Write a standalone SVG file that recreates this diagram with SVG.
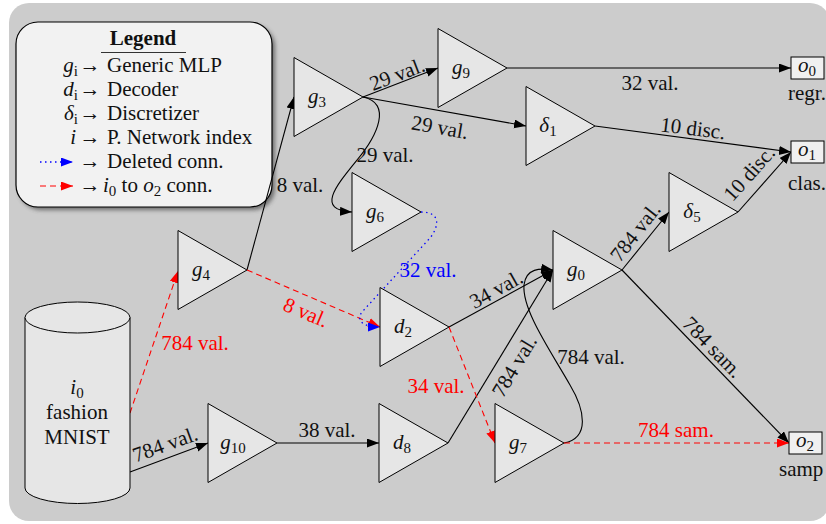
<svg xmlns="http://www.w3.org/2000/svg" width="826" height="524" viewBox="0 0 826 524">
<defs>
<marker id="ab" markerUnits="userSpaceOnUse" markerWidth="13" markerHeight="10" refX="12" refY="4.5" orient="auto" viewBox="0 0 13 10"><path d="M0,0 L12,4.5 L0,9 z" fill="#000"/></marker>
<marker id="ar" markerUnits="userSpaceOnUse" markerWidth="13" markerHeight="10" refX="12" refY="4.5" orient="auto" viewBox="0 0 13 10"><path d="M0,0 L12,4.5 L0,9 z" fill="#f00"/></marker>
<marker id="au" markerUnits="userSpaceOnUse" markerWidth="13" markerHeight="10" refX="12" refY="4.5" orient="auto" viewBox="0 0 13 10"><path d="M0,0 L12,4.5 L0,9 z" fill="#00f"/></marker>
<filter id="sh" x="-10%" y="-10%" width="130%" height="130%"><feGaussianBlur stdDeviation="2"/></filter>
</defs>
<style>
.t{font-family:'Liberation Serif','DejaVu Serif',serif;font-size:21px;fill:#111}
.m{font-style:italic}
.s{font-size:15px;font-style:normal}
.n{fill:#e6e6e6;stroke:#000;stroke-width:1}
.o{fill:#f0f0f0;stroke:#000;stroke-width:1}
.e{fill:none;stroke:#000;stroke-width:1.1}
.r{stroke:#f00;stroke-dasharray:6 4}
.b{stroke:#00f;stroke-dasharray:1.5 3.5;stroke-width:1.3}
.rt{fill:#f00}
.bt{fill:#00f}
.nl{text-anchor:middle}
.c{text-anchor:middle}
</style>
<rect x="0" y="0" width="826" height="524" fill="#fff"/>
<rect x="9" y="3" width="821" height="518" rx="20" fill="#cccccc"/>

<g id="legend">
<rect x="19" y="25" width="256" height="185" rx="22" fill="#444" opacity="0.7" filter="url(#sh)"/>
<rect x="16" y="22" width="256" height="185" rx="22" fill="#f2f2f2" stroke="#000" stroke-width="1.2"/>
<text class="t" x="143" y="45" text-anchor="middle" font-weight="bold" font-size="26">Legend</text>
<line x1="101" y1="52.5" x2="186" y2="52.5" stroke="#333" stroke-width="1.2"/>
<text class="t" x="78" y="71.5" text-anchor="end"><tspan class="m">g</tspan><tspan class="s" dy="4">i</tspan></text>
<text class="t" x="90" y="71.5" text-anchor="middle">→</text>
<text class="t" x="107" y="71.5">Generic MLP</text>
<text class="t" x="78" y="95.5" text-anchor="end"><tspan class="m">d</tspan><tspan class="s" dy="4">i</tspan></text>
<text class="t" x="90" y="95.5" text-anchor="middle">→</text>
<text class="t" x="107" y="95.5">Decoder</text>
<text class="t" x="78" y="119.5" text-anchor="end"><tspan class="m">δ</tspan><tspan class="s" dy="4">i</tspan></text>
<text class="t" x="90" y="119.5" text-anchor="middle">→</text>
<text class="t" x="107" y="119.5">Discretizer</text>
<text class="t" x="76" y="143.5" text-anchor="end" font-style="italic">i</text>
<text class="t" x="90" y="143.5" text-anchor="middle">→</text>
<text class="t" x="107" y="143.5">P. Network index</text>
<line class="e b" x1="40" y1="162" x2="73" y2="162" marker-end="url(#au)"/>
<text class="t" x="90" y="167.5" text-anchor="middle">→</text>
<text class="t" x="107" y="167.5">Deleted conn.</text>
<line class="e r" x1="40" y1="186" x2="73" y2="186" stroke-dasharray="5 4" marker-end="url(#ar)"/>
<text class="t" x="90" y="191.5" text-anchor="middle">→</text>
<text class="t" x="103" y="191.5"><tspan class="m">i</tspan><tspan class="s" dy="4">0</tspan><tspan dy="-4"> to </tspan><tspan class="m">o</tspan><tspan class="s" dy="4">2</tspan><tspan dy="-4"> conn.</tspan></text>
</g>

<g id="connectors">
<path class="e r" d="M130,413 L178,271" marker-end="url(#ar)"/>
<path class="e" d="M130,472 L208,443" marker-end="url(#ab)"/>
<path class="e" d="M277,443 L379,443" marker-end="url(#ab)"/>
<path class="e" d="M448,443 L553,270" marker-end="url(#ab)"/>
<path class="e" d="M449,327 L553,270" marker-end="url(#ab)"/>
<path class="e" d="M564,443 C590,438 585,410 570,385 C550,350 522,310 524,285 C526,268 540,268 553,270" marker-end="url(#ab)"/>
<path class="e" d="M622,270 L669,212" marker-end="url(#ab)"/>
<path class="e" d="M622,270 L789,443" marker-end="url(#ab)"/>
<path class="e" d="M738,212 L791,152" marker-end="url(#ab)"/>
<path class="e" d="M595,126 L791,152" marker-end="url(#ab)"/>
<path class="e" d="M507,68 L791,68" marker-end="url(#ab)"/>
<path class="e" d="M363,97 L438,68" marker-end="url(#ab)"/>
<path class="e" d="M363,97 L526,126" marker-end="url(#ab)"/>
<path class="e" d="M363,97 C392,103 378,135 357,160 C335,187 316,210 352,212" marker-end="url(#ab)"/>
<path class="e" d="M247,270 L294,97" marker-end="url(#ab)"/>
<path class="e r" d="M247,270 L380,327" marker-end="url(#ar)"/>
<path class="e b" d="M421,212 C440,212 440,225 430,238 L362,312 C356,320 362,327 380,327" marker-end="url(#au)"/>
<path class="e r" d="M449,327 L495,443" marker-end="url(#ar)"/>
<path class="e r" d="M564,443 L789,443" marker-end="url(#ar)"/>

<text class="t c" transform="translate(165,444) rotate(-20)" dy=".35em">784 val.</text>
<text class="t c" x="327" y="430" dy=".35em">38 val.</text>
<text class="t c" transform="translate(514,366) rotate(-59)" dy=".35em">784 val.</text>
<text class="t c" x="591" y="357" dy=".35em">784 val.</text>
<text class="t c" transform="translate(496,289) rotate(-29)" dy=".35em">34 val.</text>
<text class="t c" transform="translate(635,232) rotate(-52)" dy=".35em">784 val.</text>
<text class="t c" transform="translate(713,347) rotate(46)" dy=".35em">784 sam.</text>
<text class="t c" transform="translate(749,173) rotate(-48)" dy=".35em">10 disc.</text>
<text class="t c" transform="translate(693,128) rotate(7)" dy=".35em">10 disc.</text>
<text class="t c" x="650" y="83" dy=".35em">32 val.</text>
<text class="t c" transform="translate(397,74) rotate(-21)" dy=".35em">29 val.</text>
<text class="t c" transform="translate(440,127) rotate(10)" dy=".35em">29 val.</text>
<text class="t c" x="385" y="155" dy=".35em">29 val.</text>
<text class="t c" x="300" y="185" dy=".35em">8 val.</text>
<text class="t c rt" transform="translate(306,312) rotate(23)" dy=".35em">8 val.</text>
<text class="t c bt" x="428" y="270" dy=".35em">32 val.</text>
<text class="t c rt" x="195" y="343" dy=".35em">784 val.</text>
<text class="t c rt" x="436" y="386" dy=".35em">34 val.</text>
<text class="t c rt" x="676" y="430" dy=".35em">784 sam.</text>
</g>

<g id="i0">
<path class="n" d="M25,317.5 L25,488 A52.5,15.5 0 0 0 130,488 L130,317.5 Z"/>
<ellipse class="n" cx="77.5" cy="317.5" rx="52.5" ry="15.5"/>
<text class="t nl" x="77" y="394"><tspan class="m">i</tspan><tspan class="s" dy="4">0</tspan></text>
<text class="t nl" x="77" y="419">fashion</text>
<text class="t nl" x="77" y="444">MNIST</text>
</g>

<g id="g3"><path class="n" d="M294,57.5 L294,136.5 L363,97 Z"/><text class="t nl" x="317" y="103"><tspan class="m">g</tspan><tspan class="s" dy="4">3</tspan></text></g>
<g id="g9"><path class="n" d="M438,28.5 L438,107.5 L507,68 Z"/><text class="t nl" x="461" y="74"><tspan class="m">g</tspan><tspan class="s" dy="4">9</tspan></text></g>
<g id="delta1"><path class="n" d="M526,86.5 L526,165.5 L595,126 Z"/><text class="t nl" x="548" y="132"><tspan class="m">δ</tspan><tspan class="s" dy="4">1</tspan></text></g>
<g id="g6"><path class="n" d="M352,172.5 L352,251.5 L421,212 Z"/><text class="t nl" x="375" y="218"><tspan class="m">g</tspan><tspan class="s" dy="4">6</tspan></text></g>
<g id="g4"><path class="n" d="M178,230.5 L178,309.5 L247,270 Z"/><text class="t nl" x="201" y="276"><tspan class="m">g</tspan><tspan class="s" dy="4">4</tspan></text></g>
<g id="d2"><path class="n" d="M380,287.5 L380,366.5 L449,327 Z"/><text class="t nl" x="403" y="333"><tspan class="m">d</tspan><tspan class="s" dy="4">2</tspan></text></g>
<g id="g0"><path class="n" d="M553,230.5 L553,309.5 L622,270 Z"/><text class="t nl" x="576" y="276"><tspan class="m">g</tspan><tspan class="s" dy="4">0</tspan></text></g>
<g id="delta5"><path class="n" d="M669,172.5 L669,251.5 L738,212 Z"/><text class="t nl" x="692" y="218"><tspan class="m">δ</tspan><tspan class="s" dy="4">5</tspan></text></g>
<g id="g10"><path class="n" d="M208,403.5 L208,482.5 L277,443 Z"/><text class="t nl" x="233" y="449"><tspan class="m">g</tspan><tspan class="s" dy="4">10</tspan></text></g>
<g id="d8"><path class="n" d="M379,403.5 L379,482.5 L448,443 Z"/><text class="t nl" x="402" y="449"><tspan class="m">d</tspan><tspan class="s" dy="4">8</tspan></text></g>
<g id="g7"><path class="n" d="M495,403.5 L495,482.5 L564,443 Z"/><text class="t nl" x="518" y="449"><tspan class="m">g</tspan><tspan class="s" dy="4">7</tspan></text></g>

<g id="o0"><rect class="o" x="791" y="57" width="33" height="22"/><text class="t nl" x="807" y="72"><tspan class="m">o</tspan><tspan class="s" dy="4">0</tspan></text><text class="t nl" x="807" y="100">regr.</text></g>
<g id="o1"><rect class="o" x="791" y="141" width="33" height="22"/><text class="t nl" x="807" y="156"><tspan class="m">o</tspan><tspan class="s" dy="4">1</tspan></text><text class="t nl" x="807" y="190">clas.</text></g>
<g id="o2"><rect class="o" x="789" y="432" width="33" height="22"/><text class="t nl" x="805" y="447"><tspan class="m">o</tspan><tspan class="s" dy="4">2</tspan></text><text class="t" x="779" y="476">samp</text></g>
</svg>
